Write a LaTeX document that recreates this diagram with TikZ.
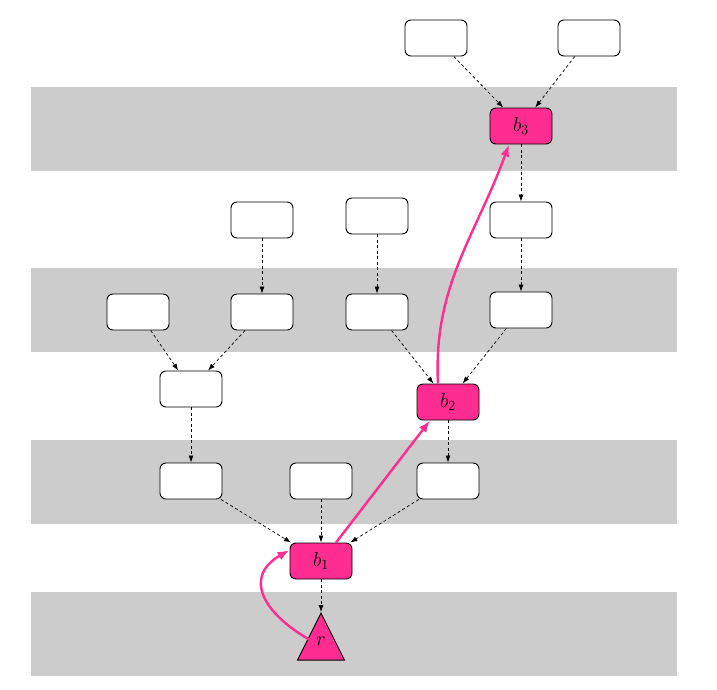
\RequirePackage{fix-cm}
\documentclass[tikz,border=0pt]{standalone}
\usetikzlibrary{arrows.meta,shapes.geometric}
\definecolor{hot}{RGB}{255,45,145}
\definecolor{band}{RGB}{204,204,204}
\begin{document}
\begin{tikzpicture}[x=1pt,y=-1pt,
  box/.style={draw,rounded corners=6,minimum width=62,minimum height=36,inner sep=0,line width=0.9,fill=white,font=\fontsize{20}{22}\selectfont},
  hotbox/.style={box,fill=hot},
  tri/.style={draw,isosceles triangle,isosceles triangle stretches,shape border rotate=90,minimum width=47,minimum height=47,inner sep=0,line width=0.9,fill=hot},
  dep/.style={dashed,dash pattern=on 3pt off 2.5pt,line width=0.7,-{Latex[length=7,width=5]}},
  hotarrow/.style={draw=hot,line width=2.4,-{Latex[length=12,width=9]}}]
\useasboundingbox (0,0) rectangle (717,689);
% bands
\fill[band] (31,87) rectangle (677,171);
\fill[band] (31,268) rectangle (677,352);
\fill[band] (31,440) rectangle (677,524);
\fill[band] (31,592) rectangle (677,676);
% nodes
\node[box] (t1) at (436,38) {};
\node[box] (t2) at (589,38) {};
\node[hotbox] (b3) at (521,126) {$b_3$};
\node[box] (c4) at (521,220) {};
\node[box] (a2) at (262,220) {};
\node[box] (a3) at (377,216) {};
\node[box] (m1) at (138,312) {};
\node[box] (m2) at (262,312) {};
\node[box] (m3) at (377,312) {};
\node[box] (m4) at (521,310) {};
\node[box] (n1) at (191,389) {};
\node[hotbox] (b2) at (448,402) {$b_2$};
\node[box] (l1) at (191,481) {};
\node[box] (l2) at (321,481) {};
\node[box] (l3) at (448,481) {};
\node[hotbox] (b1) at (321,561) {$b_1$};
\node[tri,anchor=apex] (r) at (321,612) {};
\node[font=\fontsize{20}{22}\selectfont] (rl) at (321,641) {$r$};
% dependency edges
\draw[dep] (t1) -- (b3);
\draw[dep] (t2) -- (b3);
\draw[dep] (b3) -- (c4);
\draw[dep] (c4) -- (m4);
\draw[dep] (a2) -- (m2);
\draw[dep] (a3) -- (m3);
\draw[dep] (m1) -- (n1);
\draw[dep] (m2) -- (n1);
\draw[dep] (m3) -- (b2);
\draw[dep] (m4) -- (b2);
\draw[dep] (n1) -- (l1);
\draw[dep] (b2) -- (l3);
\draw[dep] (l1) -- (b1);
\draw[dep] (l2) -- (b1);
\draw[dep] (l3) -- (b1);
\draw[dep] (b1) -- (r.apex);
% highlighted path
\draw[hotarrow] ([yshift=-3]r.left side) to[out=150,in=210,looseness=1.5] ([yshift=11]b1.west);
\draw[hotarrow] ([xshift=15]b1.north) -- ([xshift=-18]b2.south);
\draw[hotarrow] ([xshift=-10]b2.north) to[out=93,in=-110] ([xshift=-12]b3.south);
\end{tikzpicture}
\end{document}
